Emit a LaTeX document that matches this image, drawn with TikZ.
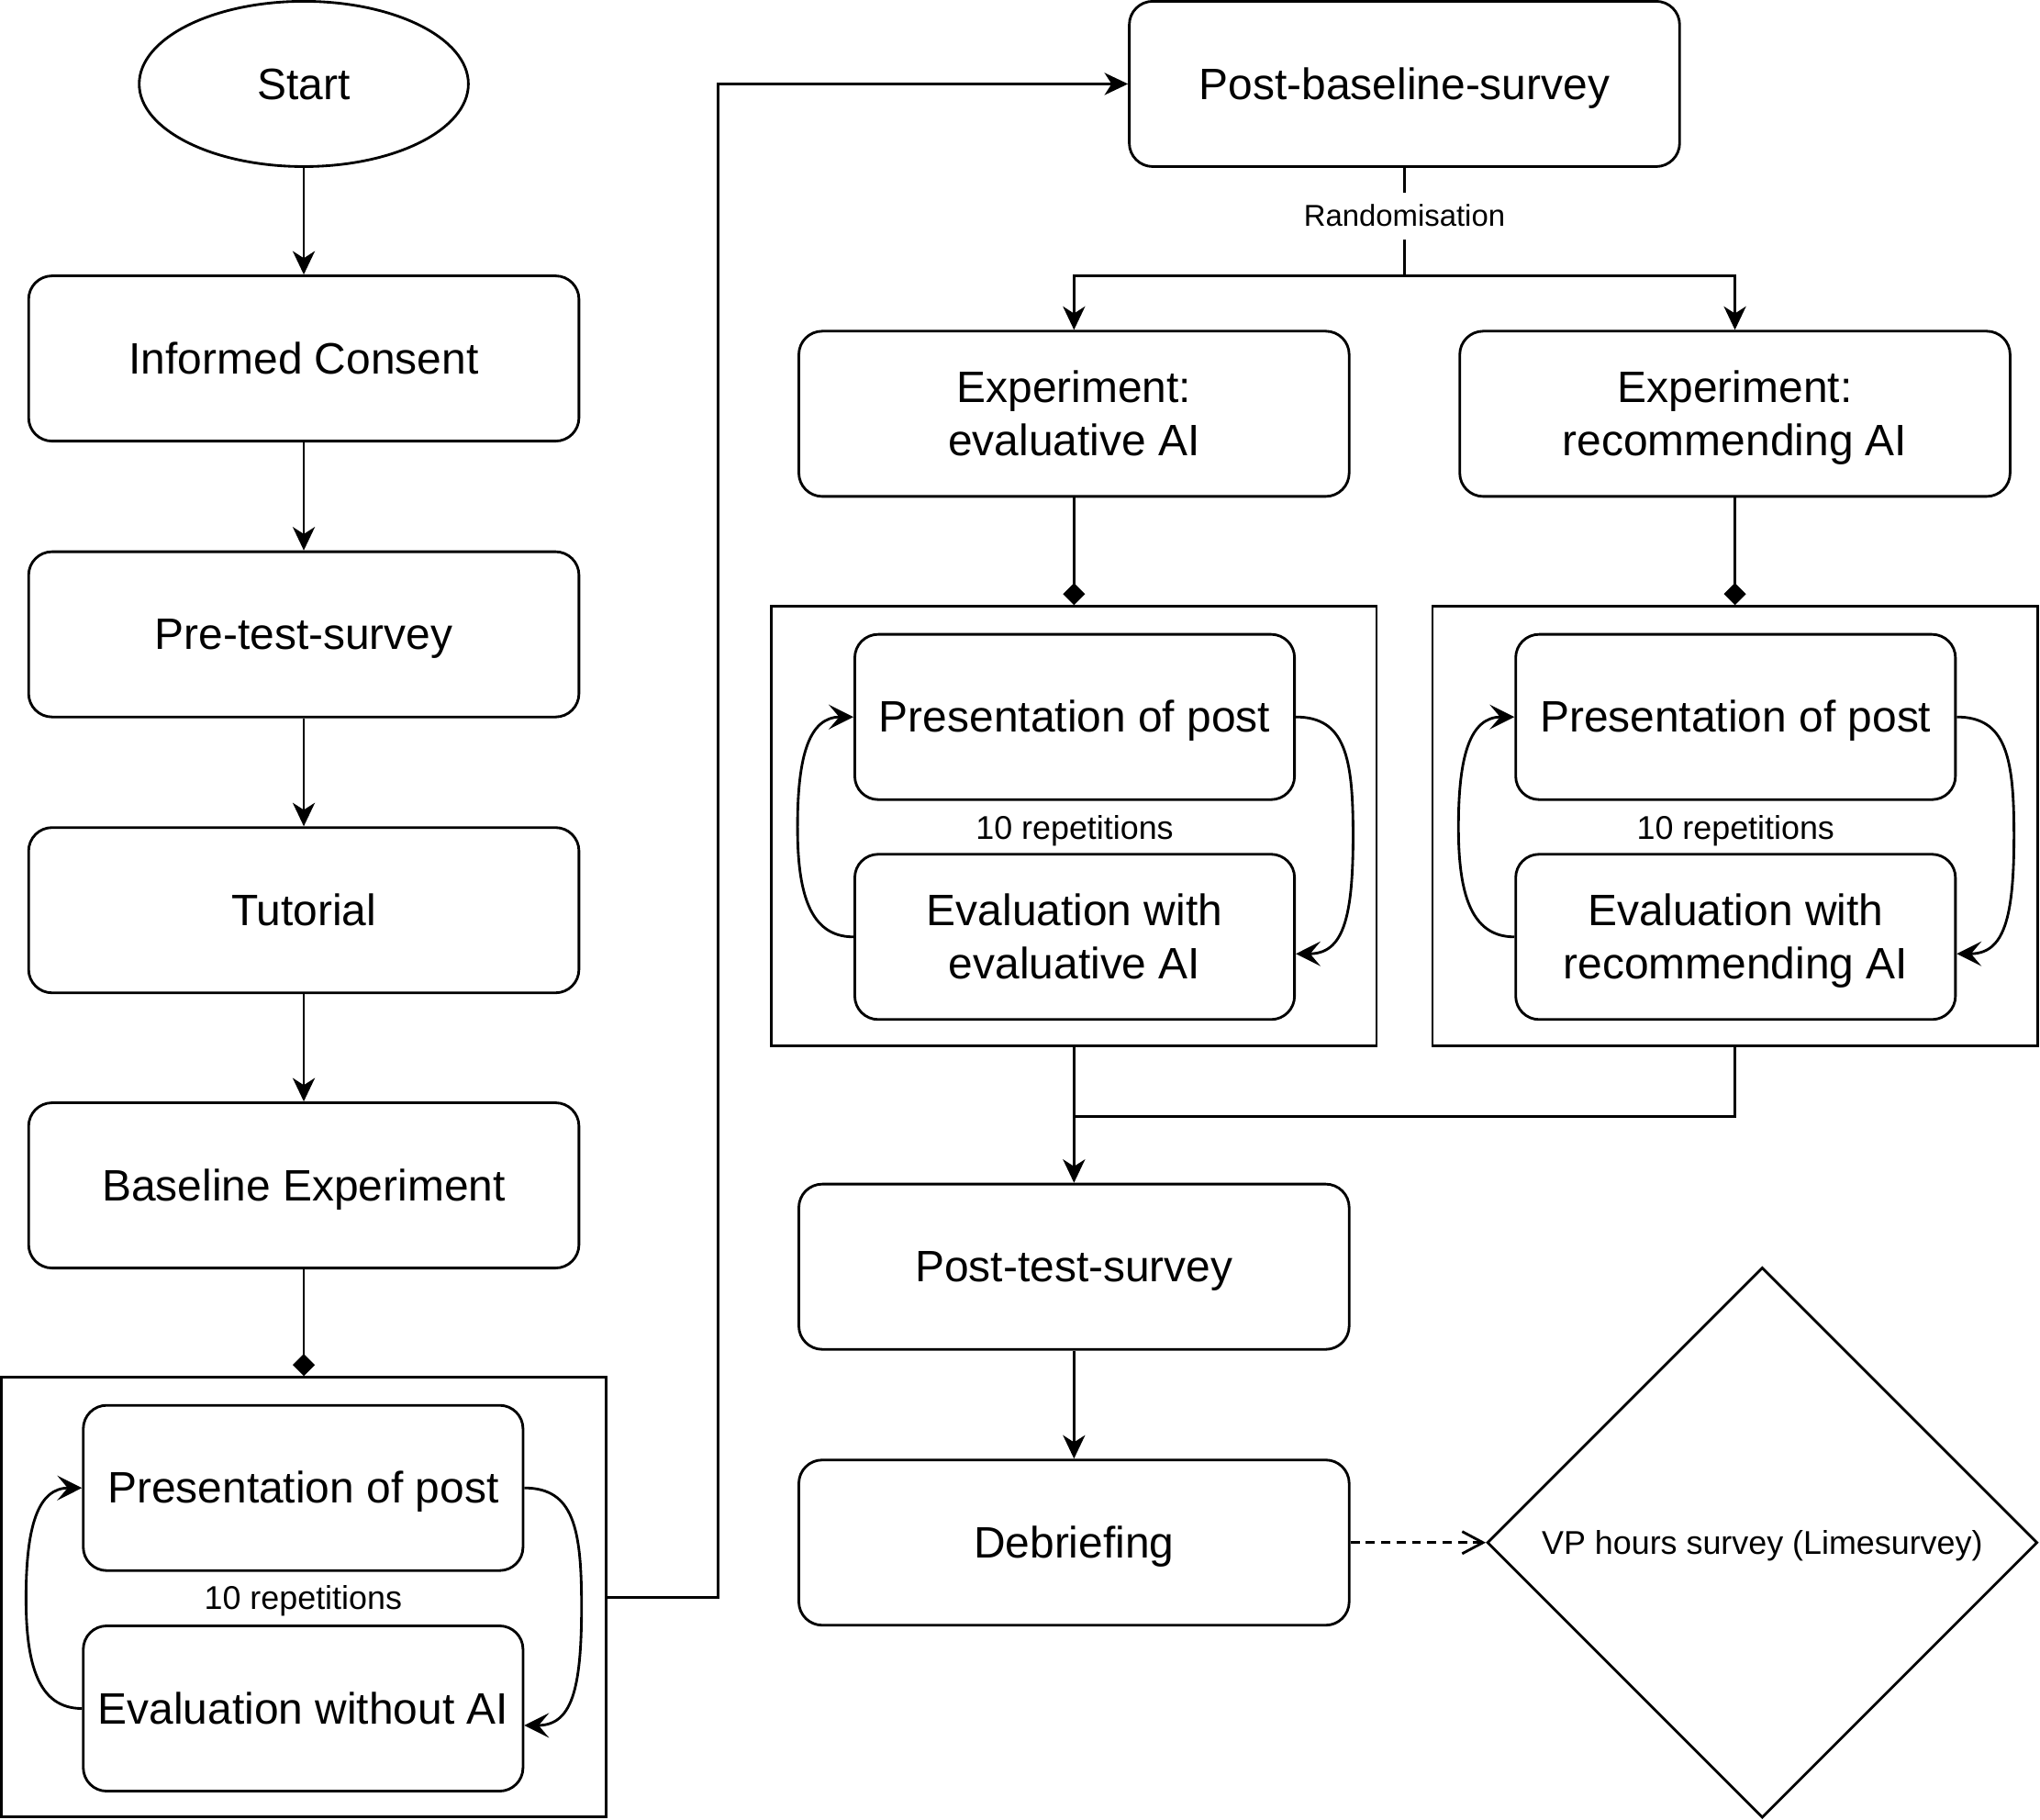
\documentclass[tikz,border=0pt]{standalone}
\usepackage{fontspec}
\setmainfont{Liberation Sans}
\usetikzlibrary{arrows.meta,shapes.geometric,calc}
\newcommand{\mainsz}{\fontsize{16.9}{20.3}\selectfont}
\newcommand{\smallsz}{\fontsize{12.65}{15}\selectfont}
\newcommand{\randsz}{\fontsize{11.6}{14}\selectfont}
\newcommand{\mstrut}{\rule[-4.28pt]{0pt}{20.28pt}}
\newcommand{\sstrut}{\rule[-3.2pt]{0pt}{15.17pt}}
\newcommand{\rstrut}{\rule[-2.94pt]{0pt}{13.92pt}}
\newcommand{\loopar}[2]{%
  \path ($(#2.east)+(0,13)$) coordinate (#2-e);
  \path ($(#1.east)!0.5!(#2-e)+(44,0)$) coordinate (#1-rm);
  \path ($(#1.west)!0.5!(#2.west)+(-43,0)$) coordinate (#1-lm);
  \draw[carr] (#1.east) .. controls +(38,0) and +(0,-60) .. (#1-rm)
     .. controls +(0,65) and +(36,0) .. (#2-e);
  \draw[carr] (#2.west) .. controls +(-34,0) and +(0,50) .. (#1-lm)
     .. controls +(0,-55) and +(-34,0) .. (#1.west);
}
\begin{document}
\begin{tikzpicture}[x=0.5pt,y=-0.5pt,
  ln/.style={line width=1pt},
  arr/.style={ln,-{Stealth[length=9pt,width=8.5pt,inset=2.7pt]}},
  carr/.style={ln,-{Stealth[length=9.5pt,width=9.5pt,inset=4pt]}},
  dia/.style={ln,-{Diamond[length=8.5pt,width=8.5pt]}},
  darr/.style={ln,dash pattern=on 3.5pt off 2.4pt,-{Straight Barb[length=8pt,width=8.5pt]}},
  box/.style={draw,ln,rounded corners=9pt,minimum width=211.5pt,minimum height=63.5pt,inner sep=0pt,align=center,font=\mainsz},
  ibox/.style={box,minimum width=169pt},
  frame/.style={draw,ln,minimum width=232.5pt,minimum height=169pt,inner sep=0pt},
  lbl/.style={inner sep=1pt,font=\smallsz}]
\useasboundingbox (0,0) rectangle (1568,1398.7);

% left column
\node[draw,ln,ellipse,minimum width=126.5pt,minimum height=63.5pt,inner sep=0pt,font=\mainsz] (start) at (233.5,64.5) {\mstrut Start};
\node[box] (ic)   at (233.5,275.5) {\mstrut Informed Consent};
\node[box] (pre)  at (233.5,487.5) {\mstrut Pre-test-survey};
\node[box] (tut)  at (233.5,699.5) {\mstrut Tutorial};
\node[box] (base) at (233.5,911) {\mstrut Baseline Experiment};
\node[frame] (c0) at (233.5,1227.5) {};
\node[ibox] (pres0) at (233,1143.5) {\mstrut Presentation of post};
\node[ibox] (eval0) at (233,1313) {\mstrut Evaluation without AI};
\node[lbl] (rep0) at (233,1228) {\sstrut 10 repetitions};

% right part
\node[box] (pbs) at (1079.5,64.5) {\mstrut Post-baseline-survey};
\node[box] (expL) at (825.5,318) {\mstrut Experiment:\\\mstrut evaluative AI};
\node[box] (expR) at (1333.5,318) {\mstrut Experiment:\\\mstrut recommending AI};
\node[frame] (cL) at (825.5,635) {};
\node[frame] (cR) at (1333.5,635) {};
\node[ibox] (presL) at (826,551) {\mstrut Presentation of post};
\node[ibox] (evalL) at (826,720) {\mstrut Evaluation with\\\mstrut evaluative AI};
\node[lbl] (repL) at (826,636) {\sstrut 10 repetitions};
\node[ibox] (presR) at (1334,551) {\mstrut Presentation of post};
\node[ibox] (evalR) at (1334,720) {\mstrut Evaluation with\\\mstrut recommending AI};
\node[lbl] (repR) at (1334,636) {\sstrut 10 repetitions};
\node[box] (ptest) at (825.5,973.5) {\mstrut Post-test-survey};
\node[box] (deb) at (825.5,1185.5) {\mstrut Debriefing};
\node[draw,ln,diamond,minimum width=211.5pt,minimum height=211.5pt,inner sep=0pt,font=\smallsz] (vp) at (1354.5,1185.5) {\sstrut VP hours survey (Limesurvey)};

% connectors left column
\draw[arr] (start) -- (ic);
\draw[arr] (ic) -- (pre);
\draw[arr] (pre) -- (tut);
\draw[arr] (tut) -- (base);
\draw[dia] (base) -- (c0);
\loopar{pres0}{eval0}
\draw[arr] (c0.east) -- ++(85,0) |- (pbs.west);

% randomisation split
\coordinate (split) at (1079.5,212);
\draw[ln] (pbs.south) -- (split);
\node[inner sep=2pt,fill=white,font=\randsz] (rand) at (1079.5,166) {\rstrut Randomisation};
\draw[arr] (split) -| (expL.north);
\draw[arr] (split) -| (expR.north);
\draw[dia] (expL) -- (cL);
\draw[dia] (expR) -- (cR);
\loopar{presL}{evalL}
\loopar{presR}{evalR}

% merge
\coordinate (merge) at (825.5,858);
\draw[arr] (cL.south) -- (ptest.north);
\draw[ln] (cR.south) |- (merge);
\draw[arr] (ptest) -- (deb);
\draw[darr] (deb.east) -- (vp.west);
\end{tikzpicture}
\end{document}
